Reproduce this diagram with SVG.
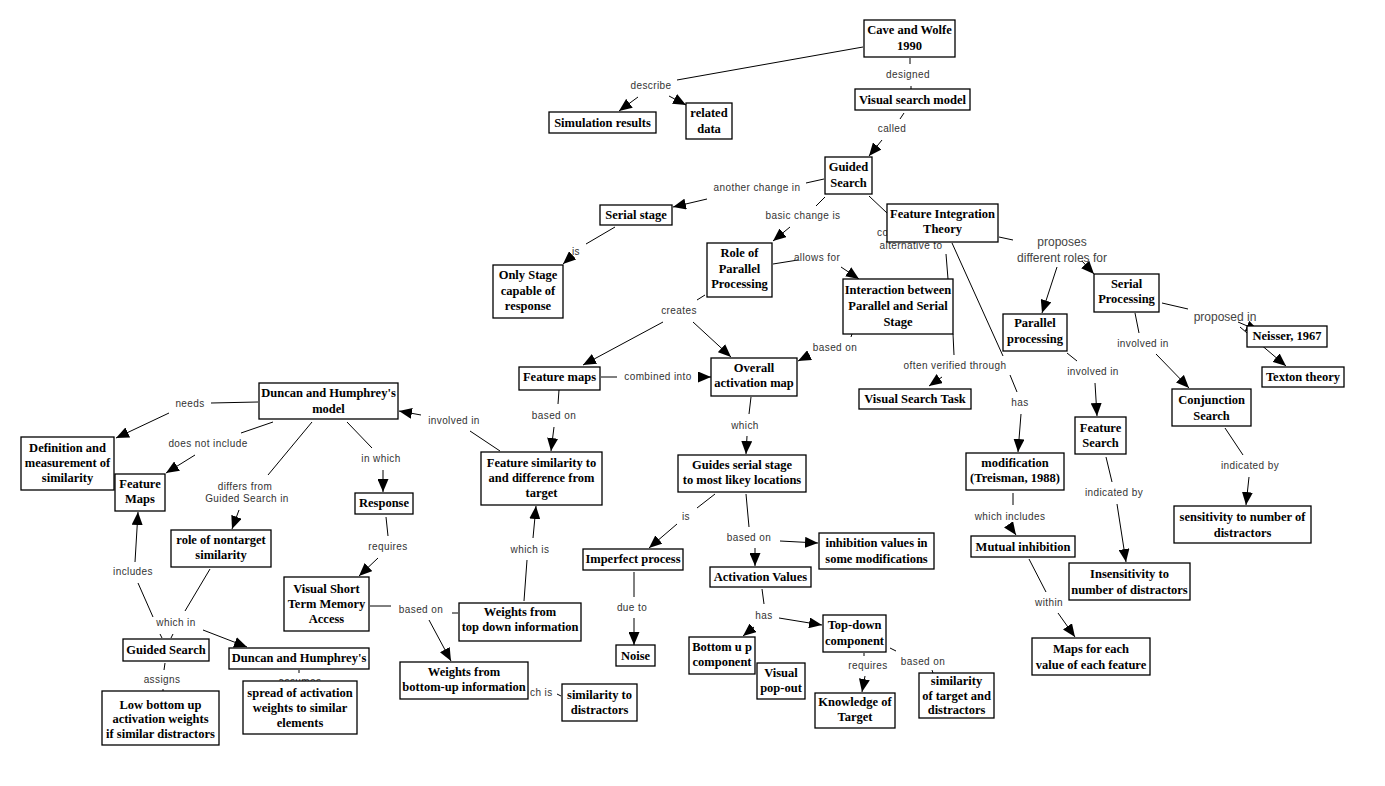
<svg xmlns="http://www.w3.org/2000/svg" width="1385" height="786" viewBox="0 0 1385 786">
<style>
.n rect{fill:#fff;stroke:#000;stroke-width:1.3}
.n text{font-family:"Liberation Serif","Times New Roman",serif;font-weight:bold;font-size:12.5px;text-anchor:middle;fill:#000}
.l{font-family:"Liberation Sans",Arial,sans-serif;font-size:10px;letter-spacing:0.4px;fill:#333;text-anchor:middle}
.s{text-anchor:start}
.lb{font-size:12px;letter-spacing:0;fill:#444}
#connectors line{stroke:#000;stroke-width:1}
#connectors line.a{marker-end:url(#ah)}
</style>
<defs>
<marker id="ah" markerWidth="14" markerHeight="11" refX="13" refY="5.5" orient="auto" markerUnits="userSpaceOnUse"><path d="M0,0 L13,5.5 L0,11 z" fill="#000"/></marker>
</defs>
<rect width="1385" height="786" fill="#fff"/>
<g id="connectors">
<line x1="863" y1="47" x2="677" y2="80"/>
<line class="a" x1="638" y1="97" x2="619" y2="111"/>
<line class="a" x1="669" y1="96" x2="686" y2="105"/>
<line x1="910" y1="58" x2="910" y2="64"/>
<line x1="911" y1="86" x2="911" y2="89"/>
<line x1="904" y1="113" x2="900" y2="119"/>
<line class="a" x1="882" y1="140" x2="869" y2="156"/>
<line x1="824" y1="179" x2="806" y2="183"/>
<line class="a" x1="707" y1="199" x2="673" y2="207"/>
<line x1="825" y1="197" x2="816" y2="206"/>
<line class="a" x1="790" y1="227" x2="773" y2="241"/>
<line x1="869" y1="196" x2="887" y2="213"/>
<line x1="615" y1="227" x2="586" y2="244"/>
<line class="a" x1="572" y1="256" x2="563" y2="264"/>
<line x1="773" y1="264" x2="798" y2="260"/>
<line class="a" x1="841" y1="267" x2="859" y2="279"/>
<line x1="705" y1="295" x2="697" y2="300"/>
<line class="a" x1="663" y1="322" x2="583" y2="365"/>
<line class="a" x1="693" y1="322" x2="731" y2="357"/>
<line x1="601" y1="377" x2="617" y2="377"/>
<line class="a" x1="698" y1="377" x2="711" y2="377"/>
<line x1="559" y1="390" x2="558" y2="404"/>
<line class="a" x1="554" y1="427" x2="551" y2="451"/>
<line x1="751" y1="397" x2="749" y2="414"/>
<line class="a" x1="747" y1="436" x2="746" y2="454"/>
<line x1="852" y1="334" x2="851" y2="337"/>
<line class="a" x1="810" y1="355" x2="798" y2="361"/>
<line x1="946" y1="254" x2="948" y2="279"/>
<line x1="953" y1="334" x2="954" y2="355"/>
<line class="a" x1="942" y1="377" x2="929" y2="386"/>
<line x1="952" y1="243" x2="1003" y2="356"/>
<line x1="1010" y1="375" x2="1017" y2="392"/>
<line class="a" x1="1021" y1="414" x2="1018" y2="452"/>
<line x1="999" y1="237" x2="1013" y2="240"/>
<line class="a" x1="1057" y1="267" x2="1042" y2="313"/>
<line class="a" x1="1082" y1="261" x2="1094" y2="274"/>
<line x1="1162" y1="303" x2="1188" y2="309"/>
<line class="a" x1="1240" y1="327" x2="1286" y2="366"/>
<line class="a" x1="1238" y1="322" x2="1259" y2="331"/>
<line x1="1135" y1="313" x2="1139" y2="333"/>
<line class="a" x1="1156" y1="354" x2="1189" y2="388"/>
<line x1="1067" y1="353" x2="1077" y2="361"/>
<line class="a" x1="1095" y1="383" x2="1097" y2="416"/>
<line x1="1106" y1="457" x2="1112" y2="482"/>
<line class="a" x1="1117" y1="504" x2="1126" y2="562"/>
<line x1="1225" y1="428" x2="1243" y2="455"/>
<line class="a" x1="1249" y1="477" x2="1246" y2="505"/>
<line x1="1013" y1="493" x2="1013" y2="505"/>
<line class="a" x1="1009" y1="525" x2="1016" y2="535"/>
<line x1="1029" y1="559" x2="1046" y2="592"/>
<line class="a" x1="1058" y1="613" x2="1075" y2="637"/>
<line x1="258" y1="402" x2="211" y2="403"/>
<line class="a" x1="169" y1="413" x2="116" y2="438"/>
<line x1="273" y1="422" x2="241" y2="433"/>
<line class="a" x1="195" y1="455" x2="166" y2="473"/>
<line x1="312" y1="422" x2="268" y2="475"/>
<line class="a" x1="239" y1="510" x2="232" y2="529"/>
<line x1="347" y1="422" x2="372" y2="448"/>
<line class="a" x1="383" y1="470" x2="383" y2="492"/>
<line x1="386" y1="517" x2="388" y2="536"/>
<line class="a" x1="378" y1="558" x2="359" y2="576"/>
<line x1="500" y1="451" x2="470" y2="431"/>
<line class="a" x1="421" y1="415" x2="399" y2="411"/>
<line x1="524" y1="601" x2="527" y2="560"/>
<line class="a" x1="533" y1="538" x2="536" y2="506"/>
<line x1="370" y1="606" x2="391" y2="606"/>
<line x1="452" y1="613" x2="458" y2="613"/>
<line class="a" x1="429" y1="620" x2="451" y2="661"/>
<line x1="557" y1="694" x2="561" y2="696"/>
<line x1="210" y1="569" x2="185" y2="611"/>
<line x1="138" y1="583" x2="153" y2="617"/>
<line x1="160" y1="634" x2="162" y2="638"/>
<line x1="173" y1="634" x2="171" y2="638"/>
<line class="a" x1="203" y1="630" x2="247" y2="647"/>
<line class="a" x1="135" y1="562" x2="138" y2="512"/>
<line x1="165" y1="663" x2="164" y2="670"/>
<line x1="163" y1="689" x2="163" y2="692"/>
<line x1="299" y1="670" x2="299" y2="673"/>
<line x1="715" y1="494" x2="697" y2="508"/>
<line class="a" x1="677" y1="524" x2="649" y2="548"/>
<line x1="746" y1="494" x2="749" y2="527"/>
<line class="a" x1="780" y1="541" x2="818" y2="543"/>
<line class="a" x1="755" y1="548" x2="755" y2="566"/>
<line x1="634" y1="572" x2="634" y2="597"/>
<line class="a" x1="634" y1="618" x2="634" y2="645"/>
<line x1="762" y1="589" x2="764" y2="604"/>
<line class="a" x1="754" y1="627" x2="743" y2="636"/>
<line class="a" x1="779" y1="618" x2="822" y2="625"/>
<line x1="864" y1="653" x2="864" y2="656"/>
<line class="a" x1="865" y1="676" x2="862" y2="692"/>
<line x1="890" y1="648" x2="896" y2="651"/>
<line x1="932" y1="670" x2="933" y2="673"/>
</g>
<g id="labels">
<text class="l" x="651" y="89">describe</text>
<text class="l" x="908" y="78">designed</text>
<text class="l" x="892" y="132">called</text>
<text class="l" x="757" y="191">another change in</text>
<text class="l" x="803" y="219">basic change is</text>
<text class="l" x="576" y="255">is</text>
<text class="l" x="817" y="261">allows for</text>
<text class="l" x="679" y="314">creates</text>
<text class="l" x="658" y="380">combined into</text>
<text class="l" x="554" y="419">based on</text>
<text class="l" x="835" y="351">based on</text>
<text class="l" x="745" y="429">which</text>
<text class="l" x="955" y="369">often verified through</text>
<text class="l s" x="877" y="236">co</text>
<text class="l" x="911" y="249">alternative to</text>
<text class="l lb" x="1062" y="246">proposes</text>
<text class="l lb" x="1062" y="262">different roles for</text>
<text class="l lb" x="1225" y="321">proposed in</text>
<text class="l" x="1143" y="347">involved in</text>
<text class="l" x="1093" y="375">involved in</text>
<text class="l" x="1020" y="406">has</text>
<text class="l" x="1114" y="496">indicated by</text>
<text class="l" x="1250" y="469">indicated by</text>
<text class="l" x="1010" y="520">which includes</text>
<text class="l" x="1049" y="606">within</text>
<text class="l" x="190" y="407">needs</text>
<text class="l" x="208" y="447">does not include</text>
<text class="l" x="245" y="490">differs from</text>
<text class="l" x="247" y="502">Guided Search in</text>
<text class="l" x="381" y="462">in which</text>
<text class="l" x="388" y="550">requires</text>
<text class="l" x="454" y="424">involved in</text>
<text class="l" x="530" y="553">which is</text>
<text class="l" x="421" y="613">based on</text>
<text class="l s" x="530" y="696">ch is</text>
<text class="l" x="176" y="626">which in</text>
<text class="l" x="133" y="575">includes</text>
<text class="l" x="162" y="683">assigns</text>
<text class="l" x="300" y="685">assumes</text>
<text class="l" x="686" y="520">is</text>
<text class="l" x="749" y="541">based on</text>
<text class="l" x="632" y="611">due to</text>
<text class="l" x="764" y="619">has</text>
<text class="l" x="868" y="669">requires</text>
<text class="l" x="923" y="665">based on</text>
</g>
<g id="n1" class="n"><rect x="864" y="20" width="91" height="37"/><text x="909.5" y="34">Cave and Wolfe</text><text x="909.5" y="50">1990</text></g>
<g id="n2" class="n"><rect x="855" y="89" width="115" height="21"/><text x="912.5" y="104">Visual search model</text></g>
<g id="n3" class="n"><rect x="549" y="112" width="107" height="21"/><text x="602.5" y="127">Simulation results</text></g>
<g id="n4" class="n"><rect x="686" y="103" width="46" height="36"/><text x="709" y="117">related</text><text x="709" y="133">data</text></g>
<g id="n5" class="n"><rect x="825" y="157" width="47" height="37"/><text x="848.5" y="171">Guided</text><text x="848.5" y="187">Search</text></g>
<g id="n6" class="n"><rect x="600" y="205" width="72" height="20"/><text x="636" y="219">Serial stage</text></g>
<g id="n7" class="n"><rect x="887" y="204" width="111" height="38"/><text x="942.5" y="218">Feature Integration</text><text x="942.5" y="233">Theory</text></g>
<g id="n8" class="n"><rect x="493" y="265" width="70" height="53"/><text x="528" y="279">Only Stage</text><text x="528" y="295">capable of</text><text x="528" y="310">response</text></g>
<g id="n9" class="n"><rect x="707" y="243" width="65" height="54"/><text x="739.5" y="257">Role of</text><text x="739.5" y="273">Parallel</text><text x="739.5" y="288">Processing</text></g>
<g id="n10" class="n"><rect x="843" y="279" width="110" height="55"/><text x="898" y="294">Interaction between</text><text x="898" y="310">Parallel and Serial</text><text x="898" y="326">Stage</text></g>
<g id="n11" class="n"><rect x="519" y="367" width="81" height="23"/><text x="559.5" y="381">Feature maps</text></g>
<g id="n12" class="n"><rect x="711" y="358" width="86" height="38"/><text x="754" y="372">Overall</text><text x="754" y="387">activation map</text></g>
<g id="n13" class="n"><rect x="859" y="389" width="112" height="20"/><text x="915" y="403">Visual Search Task</text></g>
<g id="n14" class="n"><rect x="1094" y="274" width="65" height="38"/><text x="1126.5" y="288">Serial</text><text x="1126.5" y="303">Processing</text></g>
<g id="n15" class="n"><rect x="1003" y="314" width="64" height="37"/><text x="1035" y="327">Parallel</text><text x="1035" y="343">processing</text></g>
<g id="n16" class="n"><rect x="1247" y="326" width="80" height="21"/><text x="1287" y="340">Neisser, 1967</text></g>
<g id="n17" class="n"><rect x="1262" y="367" width="82" height="20"/><text x="1303" y="381">Texton theory</text></g>
<g id="n18" class="n"><rect x="1172" y="389" width="79" height="37"/><text x="1211.5" y="404">Conjunction</text><text x="1211.5" y="420">Search</text></g>
<g id="n19" class="n"><rect x="1075" y="417" width="51" height="37"/><text x="1100.5" y="432">Feature</text><text x="1100.5" y="447">Search</text></g>
<g id="n20" class="n"><rect x="966" y="453" width="98" height="37"/><text x="1015" y="467">modification</text><text x="1015" y="482">(Treisman, 1988)</text></g>
<g id="n21" class="n"><rect x="971" y="536" width="104" height="21"/><text x="1023" y="551">Mutual inhibition</text></g>
<g id="n22" class="n"><rect x="1069" y="563" width="121" height="37"/><text x="1129.5" y="578">Insensitivity to</text><text x="1129.5" y="594">number of distractors</text></g>
<g id="n23" class="n"><rect x="1174" y="506" width="137" height="37"/><text x="1242.5" y="521">sensitivity to number of</text><text x="1242.5" y="537">distractors</text></g>
<g id="n24" class="n"><rect x="1032" y="638" width="118" height="37"/><text x="1091" y="653">Maps for each</text><text x="1091" y="669">value of each feature</text></g>
<g id="n25" class="n"><rect x="259" y="383" width="139" height="36"/><text x="328.5" y="397">Duncan and Humphrey's</text><text x="328.5" y="413">model</text></g>
<g id="n26" class="n"><rect x="21" y="437" width="93" height="53"/><text x="67.5" y="452">Definition and</text><text x="67.5" y="467">measurement of</text><text x="67.5" y="482">similarity</text></g>
<g id="n27" class="n"><rect x="115" y="474" width="50" height="37"/><text x="140" y="488">Feature</text><text x="140" y="503">Maps</text></g>
<g id="n28" class="n"><rect x="171" y="530" width="100" height="37"/><text x="221" y="544">role of nontarget</text><text x="221" y="559">similarity</text></g>
<g id="n29" class="n"><rect x="355" y="493" width="58" height="21"/><text x="384" y="507">Response</text></g>
<g id="n30" class="n"><rect x="284" y="577" width="85" height="54"/><text x="326.5" y="593">Visual Short</text><text x="326.5" y="608">Term Memory</text><text x="326.5" y="623">Access</text></g>
<g id="n31" class="n"><rect x="481" y="452" width="121" height="53"/><text x="541.5" y="467">Feature similarity to</text><text x="541.5" y="482">and difference from</text><text x="541.5" y="497">target</text></g>
<g id="n32" class="n"><rect x="678" y="455" width="128" height="37"/><text x="742" y="469">Guides serial stage</text><text x="742" y="484">to most likey locations</text></g>
<g id="n33" class="n"><rect x="583" y="549" width="100" height="21"/><text x="633" y="563">Imperfect process</text></g>
<g id="n34" class="n"><rect x="819" y="533" width="115" height="36"/><text x="876.5" y="547">inhibition values in</text><text x="876.5" y="563">some modifications</text></g>
<g id="n35" class="n"><rect x="710" y="567" width="101" height="20"/><text x="760.5" y="581">Activation Values</text></g>
<g id="n36" class="n"><rect x="616" y="645" width="39" height="21"/><text x="635.5" y="660">Noise</text></g>
<g id="n37" class="n"><rect x="823" y="615" width="63" height="37"/><text x="854.5" y="629">Top-down</text><text x="854.5" y="645">component</text></g>
<g id="n38" class="n"><rect x="689" y="637" width="66" height="37"/><text x="722" y="651">Bottom u p</text><text x="722" y="666">component</text></g>
<g id="n39" class="n"><rect x="757" y="663" width="48" height="36"/><text x="781" y="677">Visual</text><text x="781" y="692">pop-out</text></g>
<g id="n40" class="n"><rect x="815" y="693" width="80" height="35"/><text x="855" y="706">Knowledge of</text><text x="855" y="721">Target</text></g>
<g id="n41" class="n"><rect x="919" y="673" width="75" height="45"/><text x="956.5" y="685">similarity</text><text x="956.5" y="700">of target and</text><text x="956.5" y="714">distractors</text></g>
<g id="n42" class="n"><rect x="459" y="603" width="122" height="38"/><text x="520" y="616">Weights from</text><text x="520" y="631">top down information</text></g>
<g id="n43" class="n"><rect x="400" y="662" width="128" height="37"/><text x="464" y="676">Weights from</text><text x="464" y="691">bottom-up information</text></g>
<g id="n44" class="n"><rect x="562" y="684" width="75" height="37"/><text x="599.5" y="699">similarity to</text><text x="599.5" y="714">distractors</text></g>
<g id="n45" class="n"><rect x="123" y="639" width="86" height="22"/><text x="166" y="654">Guided Search</text></g>
<g id="n46" class="n"><rect x="229" y="648" width="140" height="21"/><text x="299" y="662">Duncan and Humphrey's</text></g>
<g id="n47" class="n"><rect x="102" y="691" width="117" height="54"/><text x="160.5" y="709">Low bottom up</text><text x="160.5" y="723">activation weights</text><text x="160.5" y="738">if similar distractors</text></g>
<g id="n48" class="n"><rect x="243" y="681" width="114" height="53"/><text x="300" y="697">spread of activation</text><text x="300" y="712">weights to similar</text><text x="300" y="727">elements</text></g>
</svg>
